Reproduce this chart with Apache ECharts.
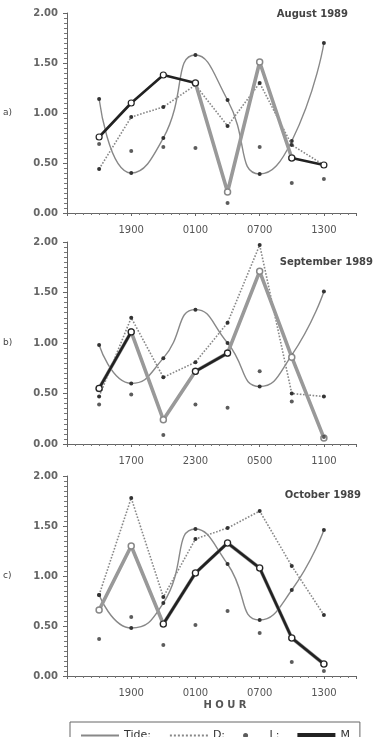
<!DOCTYPE html>
<html>
<head>
<meta charset="utf-8">
<script src="https://cdn.jsdelivr.net/npm/echarts@6/dist/echarts.min.js"></script>
<style>
  html, body { margin: 0; padding: 0; background: #fff; }
  #chart { width: 378px; height: 737px; }
</style>
</head>
<body>
<div id="chart"></div>
<script>
// hours after 13:00 on the first day (3 h sampling)
const xHours = [3, 6, 9, 12, 15, 18, 21, 24]
const tickHours = [6, 12, 18, 24]
const tickLabelsAug = ['1900', '0100', '0700', '1300']
const tickLabelsSep = ['1700', '2300', '0500', '1100']
const tickLabelsOct = ['1900', '0100', '0700', '1300']

const tideAug = [1.14, 0.40, 0.75, 1.58, 1.13, 0.39, 0.72, 1.70]
const dAug = [0.44, 0.96, 1.06, 1.28, 0.87, 1.30, 0.68, 0.48]
const lAug = [0.69, 0.62, 0.66, 0.65, 0.10, 0.66, 0.30, 0.34]
const mGrayAug = [null, null, null, 1.30, 0.21, 1.51, 0.55, null]
const mBlackAug = [0.76, 1.10, 1.38, 1.30, null, null, 0.55, 0.48]

const tideSep = [0.98, 0.60, 0.85, 1.33, 1.00, 0.57, 0.88, 1.51]
const dSep = [0.47, 1.25, 0.66, 0.81, 1.20, 1.97, 0.50, 0.47]
const lSep = [0.39, 0.49, 0.09, 0.39, 0.36, 0.72, 0.42, 0.07]
const mGraySep = [0.55, 1.11, 0.24, 0.72, 0.90, 1.71, 0.86, 0.06]
const mBlackSep = [0.55, 1.11, null, 0.72, 0.90, null, null, null]

const tideOct = [0.81, 0.48, 0.73, 1.47, 1.12, 0.56, 0.86, 1.46]
const dOct = [0.81, 1.78, 0.79, 1.37, 1.48, 1.65, 1.10, 0.61]
const lOct = [0.37, 0.59, 0.31, 0.51, 0.65, 0.43, 0.14, 0.05]
const mGrayOct = [0.66, 1.30, 0.52, 1.03, 1.33, 1.08, 0.38, 0.12]
const mBlackOct = [null, null, 0.52, 1.03, 1.33, 1.08, 0.38, 0.12]

const panels = [
  { top: 13, height: 200, ticks: tickLabelsAug, title: 'August 1989', titleX: 348, titleY: 14, tag: 'a)', tide: tideAug, d: dAug, l: lAug, mGray: mGrayAug, mBlack: mBlackAug },
  { top: 242, height: 202, ticks: tickLabelsSep, title: 'September 1989', titleX: 373, titleY: 262, tag: 'b)', tide: tideSep, d: dSep, l: lSep, mGray: mGraySep, mBlack: mBlackSep },
  { top: 476, height: 200, ticks: tickLabelsOct, title: 'October 1989', titleX: 361, titleY: 495, tag: 'c)', tide: tideOct, d: dOct, l: lOct, mGray: mGrayOct, mBlack: mBlackOct },
]

const pairs = arr => xHours.map((h, k) => [h, arr[k] == null ? '-' : arr[k]])
const font = 'DejaVu Sans'

const grids = [], xAxes = [], yAxes = [], series = [], graphic = []
panels.forEach((p, i) => {
  grids.push({ left: 67, width: 289, top: p.top, height: p.height })
  xAxes.push({
    gridIndex: i,
    type: 'value',
    min: 0,
    max: 27,
    interval: 6,
    axisLine: { lineStyle: { color: '#666', width: 1 } },
    axisTick: { show: true, length: 3, lineStyle: { color: '#666' } },
    minorTick: { show: true, splitNumber: 8, length: 2, lineStyle: { color: '#777' } },
    splitLine: { show: false },
    axisLabel: {
      color: '#555',
      fontSize: 10,
      fontFamily: font,
      margin: 12,
      formatter: v => p.ticks[tickHours.indexOf(v)] || '',
    },
  })
  yAxes.push({
    gridIndex: i,
    type: 'value',
    min: 0,
    max: 2,
    interval: 0.5,
    axisLine: { show: true, lineStyle: { color: '#666', width: 1 } },
    axisTick: { show: true, length: 4, lineStyle: { color: '#666' } },
    minorTick: { show: true, splitNumber: 10, length: 3, lineStyle: { color: '#777' } },
    splitLine: { show: false },
    axisLabel: {
      color: '#666',
      fontSize: 10,
      fontWeight: 'bold',
      fontFamily: font,
      margin: 9,
      formatter: v => v.toFixed(2),
    },
  })
  series.push(
    {
      name: 'Tide',
      type: 'line',
      xAxisIndex: i,
      yAxisIndex: i,
      smooth: 0.55,
      symbol: 'circle',
      symbolSize: 4,
      itemStyle: { color: '#333' },
      lineStyle: { color: '#888', width: 1.4 },
      z: 2,
      data: pairs(p.tide),
    },
    {
      name: 'D',
      type: 'line',
      xAxisIndex: i,
      yAxisIndex: i,
      symbol: 'circle',
      symbolSize: 4,
      itemStyle: { color: '#333' },
      lineStyle: { color: '#888', width: 1.6, type: 'dotted' },
      z: 3,
      data: pairs(p.d),
    },
    {
      name: 'L',
      type: 'scatter',
      xAxisIndex: i,
      yAxisIndex: i,
      symbol: 'circle',
      symbolSize: 4,
      itemStyle: { color: '#333' },
      z: 6,
      data: pairs(p.l),
    },
    {
      name: 'M',
      type: 'line',
      xAxisIndex: i,
      yAxisIndex: i,
      symbol: 'circle',
      symbolSize: 6,
      itemStyle: { color: '#fff', borderColor: '#222', borderWidth: 1.2 },
      lineStyle: { color: '#222', width: 2.6 },
      z: 5,
      data: pairs(p.mBlack),
    },
    {
      name: 'M',
      type: 'line',
      xAxisIndex: i,
      yAxisIndex: i,
      symbol: 'circle',
      symbolSize: 6,
      itemStyle: { color: '#fff', borderColor: '#888', borderWidth: 1.5 },
      lineStyle: { color: '#999', width: 3.6 },
      z: 4,
      data: pairs(p.mGray),
    }
  )
  graphic.push(
    {
      type: 'text',
      x: p.titleX,
      y: p.titleY,
      style: { text: p.title, fill: '#444', font: `bold 10px "${font}"`, textAlign: 'right', textVerticalAlign: 'middle' },
    },
    {
      type: 'text',
      x: 3,
      y: p.top + p.height / 2,
      style: { text: p.tag, fill: '#444', font: `9px "${font}"`, textVerticalAlign: 'middle' },
    }
  )
})

graphic.push({
  type: 'text',
  x: 225,
  y: 705,
  style: { text: 'H O U R', fill: '#555', font: `bold 10px "${font}"`, textAlign: 'center', textVerticalAlign: 'middle' },
})

const chart = echarts.init(document.getElementById('chart'), null, { renderer: 'canvas' })
chart.setOption({
  backgroundColor: '#fff',
  animation: false,
  grid: grids,
  xAxis: xAxes,
  yAxis: yAxes,
  series: series,
  graphic: graphic,
  legend: {
    left: 70,
    top: 722,
    width: 287,
    padding: [8, 10],
    borderColor: '#666',
    borderWidth: 1,
    itemWidth: 38,
    itemHeight: 5,
    itemGap: 18,
    textStyle: { color: '#333', fontSize: 11, fontFamily: font },
    formatter: name => ({ Tide: 'Tide:', D: 'D:', L: 'L:', M: 'M' })[name],
    data: [
      { name: 'Tide', itemStyle: { opacity: 0 } },
      { name: 'D', itemStyle: { opacity: 0 } },
      { name: 'L' },
      { name: 'M', icon: 'rect', itemStyle: { color: '#222', borderWidth: 0 } },
    ],
  },
})
window.addEventListener('resize', () => chart.resize())
</script>
</body>
</html>
